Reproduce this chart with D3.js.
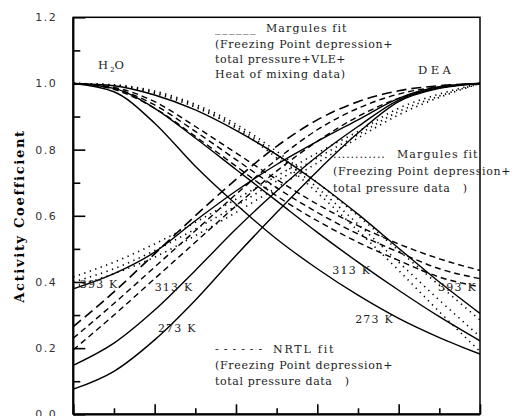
<!DOCTYPE html>
<html><head><meta charset="utf-8">
<script src="https://cdn.jsdelivr.net/npm/d3@7"></script>
<style>html,body{margin:0;padding:0;background:#fff;}svg{display:block;}</style>
</head><body>
<script>
// ---- data ----
const xValues = [0, 0.1, 0.2, 0.3, 0.4, 0.5, 0.6, 0.7, 0.8, 0.9, 1.0];
const yMajorTicks = [0, 0.2, 0.4, 0.6, 0.8, 1.0, 1.2];
const yMinorTicks = [0.1, 0.3, 0.5, 0.7, 0.9, 1.1];
const xMajorTicks = [0, 0.2, 0.4, 0.6, 0.8, 1.0];
const xMinorTicks = [0.1, 0.3, 0.5, 0.7, 0.9];

// Margules fit (FP + total pressure + VLE + heat of mixing) - solid
const h2oMargulesAll273 = [1.0, 0.975, 0.88, 0.75, 0.635, 0.53, 0.44, 0.36, 0.29, 0.232, 0.182];
const h2oMargulesAll313 = [1.0, 0.985, 0.925, 0.835, 0.74, 0.645, 0.55, 0.46, 0.375, 0.295, 0.222];
const h2oMargulesAll393 = [1.0, 0.993, 0.965, 0.92, 0.858, 0.785, 0.70, 0.605, 0.502, 0.40, 0.305];
const deaMargulesAll273 = [0.076, 0.13, 0.225, 0.345, 0.48, 0.61, 0.735, 0.85, 0.945, 0.985, 1.0];
const deaMargulesAll313 = [0.148, 0.215, 0.315, 0.435, 0.56, 0.675, 0.78, 0.87, 0.95, 0.987, 1.0];
const deaMargulesAll393 = [0.379, 0.425, 0.49, 0.585, 0.675, 0.755, 0.825, 0.89, 0.955, 0.99, 1.0];

// Margules fit (FP + total pressure) - dotted
const h2oMargulesFP_A = [1.0, 0.996, 0.977, 0.937, 0.877, 0.795, 0.70, 0.60, 0.495, 0.39, 0.285];
const h2oMargulesFP_B = [1.0, 0.995, 0.973, 0.932, 0.87, 0.785, 0.685, 0.575, 0.46, 0.345, 0.235];
const h2oMargulesFP_C = [1.0, 0.994, 0.97, 0.928, 0.865, 0.775, 0.67, 0.555, 0.435, 0.31, 0.19];
const deaMargulesFP_A = [0.415, 0.46, 0.515, 0.58, 0.65, 0.72, 0.79, 0.855, 0.925, 0.968, 1.0];
const deaMargulesFP_B = [0.40, 0.44, 0.495, 0.56, 0.63, 0.705, 0.775, 0.845, 0.915, 0.962, 1.0];
const deaMargulesFP_C = [0.385, 0.425, 0.475, 0.54, 0.61, 0.685, 0.76, 0.835, 0.905, 0.958, 1.0];

// NRTL fit (FP + total pressure) - dashed
const h2oNRTL_A = [1.0, 0.988, 0.945, 0.87, 0.79, 0.71, 0.635, 0.57, 0.515, 0.47, 0.435];
const h2oNRTL_B = [1.0, 0.985, 0.935, 0.855, 0.77, 0.685, 0.61, 0.545, 0.49, 0.44, 0.41];
const h2oNRTL_C = [1.0, 0.982, 0.925, 0.84, 0.75, 0.66, 0.585, 0.52, 0.465, 0.415, 0.385];
const deaNRTL_A = [0.195, 0.30, 0.41, 0.52, 0.63, 0.735, 0.825, 0.90, 0.955, 0.987, 1.0];
const deaNRTL_B = [0.23, 0.335, 0.445, 0.555, 0.665, 0.77, 0.86, 0.925, 0.968, 0.99, 1.0];
const deaNRTL_C = [0.265, 0.37, 0.485, 0.60, 0.71, 0.81, 0.89, 0.945, 0.978, 0.993, 1.0];

const tempLabels = ["393 K", "313 K", "273 K", "313 K", "273 K", "393 K"];
const tempLabelX = [0.016, 0.2, 0.208, 0.637, 0.693, 0.897];
const tempLabelY = [0.382, 0.373, 0.249, 0.424, 0.276, 0.373];

// ---- drawing ----
const W = 512, H = 416;
const svg = d3.select("body").append("svg").attr("width", W).attr("height", H);
const x = d3.scaleLinear().domain([0, 1]).range([73.3, 480]);
const y = d3.scaleLinear().domain([0, 1.2]).range([414.3, 17.3]);

const serif = "'DejaVu Serif', serif";
const line = d3.line().x((d, i) => x(xValues[i])).y(d => y(d)).curve(d3.curveMonotoneX);

const plot = svg.append("g");
plot.append("clipPath").attr("id", "clip").append("rect")
  .attr("x", x(0)).attr("y", y(1.2)).attr("width", x(1) - x(0)).attr("height", y(0) - y(1.2));
const curves = plot.append("g").attr("clip-path", "url(#clip)");

function draw(arr, dash, width) {
  curves.append("path").datum(arr).attr("d", line)
    .attr("fill", "none").attr("stroke", "#000")
    .attr("stroke-width", width)
    .attr("stroke-dasharray", dash);
}
[h2oMargulesAll273, h2oMargulesAll313, h2oMargulesAll393,
 deaMargulesAll273, deaMargulesAll313, deaMargulesAll393].forEach(a => draw(a, null, 1.4));
[h2oMargulesFP_A, h2oMargulesFP_B, h2oMargulesFP_C,
 deaMargulesFP_A, deaMargulesFP_B, deaMargulesFP_C].forEach(a => draw(a, "1.3,4.5", 1.6));
[h2oNRTL_A, h2oNRTL_B, h2oNRTL_C, deaNRTL_A, deaNRTL_B].forEach(a => draw(a, "6,4", 1.4));
draw(deaNRTL_C, "10,5", 1.6);

// axes: ticks inward
const gl = svg.append("g").attr("transform", `translate(${x(0)},0)`);
gl.call(d3.axisLeft(y).tickValues(yMajorTicks).tickSizeInner(-12).tickSizeOuter(0)
  .tickPadding(16).tickFormat(d3.format(".1f")));
gl.append("g").call(d3.axisLeft(y).tickValues(yMinorTicks).tickSizeInner(-7).tickSizeOuter(0).tickFormat(""));
gl.selectAll(".domain").remove();
gl.selectAll("line").attr("stroke-width", 1.6);
gl.selectAll("text").attr("font-family", "'DejaVu Sans', sans-serif").attr("font-size", 11)
  .attr("letter-spacing", 1.5).attr("fill", "#333");

const gb = svg.append("g").attr("transform", `translate(0,${y(0)})`);
gb.call(d3.axisBottom(x).tickValues(xMajorTicks).tickSizeInner(-10).tickSizeOuter(0).tickFormat(""));
gb.append("g").call(d3.axisBottom(x).tickValues(xMinorTicks).tickSizeInner(-6).tickSizeOuter(0).tickFormat(""));
gb.selectAll(".domain").remove();
gb.selectAll("line").attr("stroke-width", 1.6);

// frame
svg.append("rect").attr("x", x(0)).attr("y", y(1.2))
  .attr("width", x(1) - x(0)).attr("height", y(0) - y(1.2))
  .attr("fill", "none").attr("stroke", "#000").attr("stroke-width", 1.5);
svg.append("line").attr("x1", x(0)).attr("x2", x(0)).attr("y1", y(1.2)).attr("y2", y(0))
  .attr("stroke", "#000").attr("stroke-width", 2.2);
svg.append("line").attr("x1", x(0)).attr("x2", x(1)).attr("y1", y(0)).attr("y2", y(0))
  .attr("stroke", "#000").attr("stroke-width", 2.2);

// y title
svg.append("text").attr("transform", `translate(24,216) rotate(-90)`)
  .attr("text-anchor", "middle").attr("font-family", serif).attr("font-weight", "bold")
  .attr("font-size", 13).attr("letter-spacing", 1.7).text("Activity Coefficient");

// text helper
function txt(tx, ty, s, opts = {}) {
  const t = svg.append("text").attr("x", tx).attr("y", ty)
    .attr("font-family", serif).attr("font-size", opts.size || 11)
    .attr("fill", opts.fill || "#222").style("white-space", "pre").text(s);
  if (opts.ls != null) t.attr("letter-spacing", opts.ls);
  return t;
}

// component labels
const h = svg.append("text").attr("x", 98).attr("y", 69).attr("font-family", serif)
  .attr("font-size", 11.5).attr("fill", "#222");
h.append("tspan").text("H");
h.append("tspan").attr("font-size", 7).attr("dy", 3).attr("dx", 2).text("2");
h.append("tspan").attr("dy", -3).text("O");
txt(418, 74, "DEA", { ls: 3.5, size: 11.5 });

// legend 1 (solid)
txt(215, 32, "______", { ls: 1.5 });
txt(266, 32, "Margules fit", { ls: 1.1 });
txt(215, 48, "(Freezing Point depression+", { ls: 0.7 });
txt(215, 63, "total pressure+VLE+", { ls: 0.6 });
txt(215, 78, "Heat of mixing data)", { ls: 0.8 });

// legend 2 (dotted)
txt(333, 158, "............", { ls: 0.9 });
txt(397, 158, "Margules fit", { ls: 1.1 });
txt(333, 175, "(Freezing Point depression+", { ls: 0.7 });
txt(333, 192, "total pressure data   )", { ls: 0.6 });

// legend 3 (dashed)
txt(215, 353, "------", { ls: 5 });
txt(273, 353, "NRTL fit", { ls: 1.8 });
txt(215, 369, "(Freezing Point depression+", { ls: 0.7 });
txt(215, 385, "total pressure data   )", { ls: 0.6 });

// temperature labels
tempLabels.forEach((s, i) => txt(x(tempLabelX[i]), y(tempLabelY[i]), s, { ls: 1.2 }));
</script>
</body></html>
